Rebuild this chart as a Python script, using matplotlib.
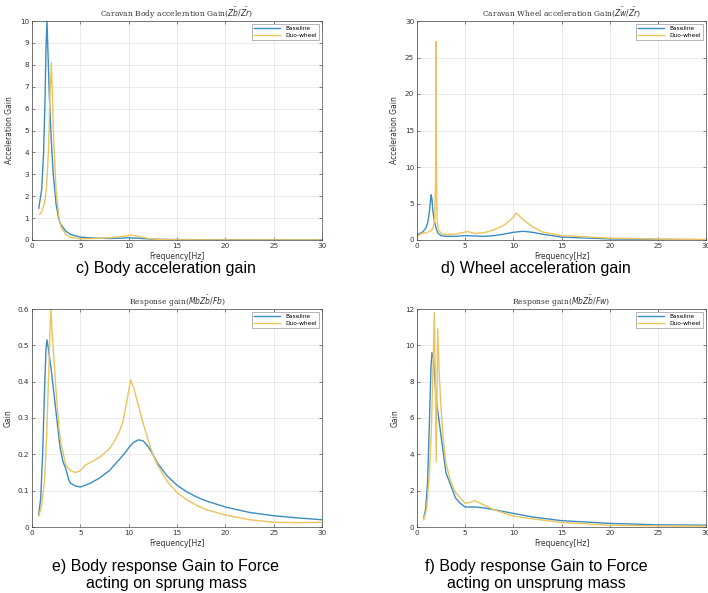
import matplotlib.pyplot as plt
from matplotlib.ticker import FormatStrFormatter

# --- data ---
# c) body acceleration gain
fc_base = [0.7, 1.0, 1.2, 1.35, 1.45, 1.55, 1.65, 1.8, 2.0, 2.2, 2.5, 2.8, 3.0, 3.5, 4.0, 5.0, 6.0, 7.0, 8.0, 9.0, 10.0, 11.0, 12.0, 13.0, 15.0, 20.0, 25.0, 30.0]
gc_base = [1.45, 2.3, 4.0, 6.5, 8.8, 10.0, 8.6, 6.5, 4.5, 3.0, 1.6, 0.9, 0.7, 0.4, 0.25, 0.13, 0.1, 0.08, 0.07, 0.08, 0.1, 0.08, 0.05, 0.03, 0.02, 0.01, 0.006, 0.005]
fc_duo = [0.8, 1.0, 1.3, 1.5, 1.7, 1.85, 2.0, 2.1, 2.25, 2.5, 2.8, 3.0, 3.5, 4.0, 5.0, 6.0, 7.0, 8.0, 9.0, 10.0, 10.3, 11.0, 12.0, 13.0, 15.0, 20.0, 30.0]
gc_duo = [1.17, 1.3, 1.7, 2.4, 4.0, 6.5, 8.1, 6.8, 4.5, 2.2, 1.0, 0.6, 0.25, 0.12, 0.06, 0.06, 0.08, 0.1, 0.14, 0.2, 0.22, 0.17, 0.07, 0.03, 0.01, 0.004, 0.002]

# d) wheel acceleration gain
fd_base = [0.0, 0.3, 0.6, 0.9, 1.1, 1.3, 1.4, 1.48, 1.55, 1.65, 1.8, 2.0, 2.2, 2.5, 3.0, 4.0, 5.0, 6.0, 7.0, 8.0, 9.0, 10.0, 11.0, 12.0, 13.0, 15.0, 20.0, 25.0, 30.0]
gd_base = [0.7, 0.9, 1.1, 1.6, 2.3, 4.0, 5.4, 6.2, 5.6, 4.0, 2.6, 1.5, 0.9, 0.6, 0.5, 0.5, 0.6, 0.55, 0.5, 0.6, 0.8, 1.05, 1.2, 1.05, 0.8, 0.4, 0.15, 0.08, 0.05]
fd_duo = [0.0, 0.3, 0.6, 1.0, 1.5, 1.7, 1.85, 1.92, 1.97, 2.02, 2.08, 2.2, 2.5, 3.0, 4.0, 5.0, 5.3, 6.0, 7.0, 8.0, 9.0, 10.0, 10.3, 11.0, 12.0, 13.0, 15.0, 20.0, 25.0, 30.0]
gd_duo = [0.3, 0.8, 0.95, 1.0, 1.3, 1.8, 3.0, 8.0, 27.2, 10.0, 3.0, 1.5, 0.9, 0.75, 0.8, 1.1, 1.15, 0.9, 1.0, 1.4, 2.0, 3.1, 3.7, 2.8, 1.8, 1.1, 0.6, 0.25, 0.12, 0.07]

# e) body response gain, force on sprung mass
fe_base = [0.7, 0.9, 1.1, 1.3, 1.45, 1.55, 1.7, 2.0, 2.3, 2.6, 2.9, 3.2, 3.5, 3.8, 4.0, 4.5, 5.0, 5.5, 6.0, 7.0, 8.0, 9.0, 9.5, 10.0, 10.5, 11.0, 11.5, 12.0, 12.5, 13.0, 14.0, 15.0, 16.0, 17.0, 18.0, 20.0, 22.5, 25.0, 27.5, 30.0]
ge_base = [0.034, 0.08, 0.2, 0.38, 0.49, 0.515, 0.49, 0.43, 0.36, 0.29, 0.22, 0.18, 0.16, 0.13, 0.12, 0.113, 0.11, 0.115, 0.12, 0.135, 0.155, 0.185, 0.2, 0.218, 0.233, 0.24, 0.237, 0.222, 0.2, 0.175, 0.14, 0.115, 0.097, 0.083, 0.072, 0.055, 0.04, 0.031, 0.025, 0.02]
fe_duo = [0.7, 1.0, 1.3, 1.5, 1.7, 1.85, 1.95, 2.1, 2.3, 2.5, 2.8, 3.0, 3.5, 4.0, 4.5, 5.0, 5.5, 6.0, 7.0, 8.0, 8.5, 9.0, 9.4, 9.7, 10.0, 10.2, 10.5, 11.0, 11.5, 12.0, 12.5, 13.0, 14.0, 15.0, 16.0, 17.0, 18.0, 20.0, 22.5, 25.0, 27.5, 30.0]
ge_duo = [0.03, 0.06, 0.13, 0.24, 0.4, 0.53, 0.6, 0.53, 0.45, 0.37, 0.27, 0.23, 0.17, 0.155, 0.15, 0.155, 0.17, 0.177, 0.192, 0.215, 0.235, 0.26, 0.29, 0.33, 0.375, 0.405, 0.385, 0.335, 0.285, 0.24, 0.2, 0.17, 0.125, 0.095, 0.075, 0.06, 0.048, 0.033, 0.02, 0.013, 0.012, 0.013]

# f) body response gain, force on unsprung mass
ff_base = [0.7, 0.9, 1.1, 1.3, 1.45, 1.55, 1.7, 1.85, 2.0, 2.5, 3.0, 3.5, 4.0, 4.5, 5.0, 6.0, 7.0, 8.0, 10.0, 12.0, 15.0, 20.0, 25.0, 30.0]
gf_base = [0.5, 1.0, 2.5, 6.0, 8.8, 9.6, 9.3, 8.2, 7.0, 5.0, 3.0, 2.3, 1.6, 1.3, 1.1, 1.1, 1.05, 0.95, 0.75, 0.55, 0.35, 0.2, 0.12, 0.1]
ff_duo = [0.7, 1.0, 1.3, 1.5, 1.65, 1.8, 1.9, 2.0, 2.08, 2.15, 2.3, 2.5, 2.7, 3.0, 3.5, 4.0, 5.0, 5.5, 6.0, 7.0, 8.0, 10.0, 12.0, 15.0, 20.0, 25.0, 30.0]
gf_duo = [0.4, 1.0, 3.0, 5.5, 8.5, 11.8, 8.0, 3.6, 7.5, 10.9, 8.5, 6.5, 5.0, 3.5, 2.5, 1.9, 1.3, 1.35, 1.45, 1.2, 0.95, 0.6, 0.45, 0.25, 0.1, 0.06, 0.05]

titles = [r'Caravan Body acceleration Gain($\ddot{Zb}/\ddot{Zr}$)',
          r'Caravan Wheel acceleration Gain($\ddot{Zw}/\ddot{Zr}$)',
          r'Response gain($Mb\ddot{Zb}/Fb$)',
          r'Response gain($Mb\ddot{Zb}/Fw$)']
ylabels = ['Acceleration Gain', 'Acceleration Gain', 'Gain', 'Gain']
ylims = [10, 30, 0.6, 12]
yticks = [range(0, 11), range(0, 31, 5), [0, 0.1, 0.2, 0.3, 0.4, 0.5, 0.6], range(0, 13, 2)]
captions = ['c) Body acceleration gain', 'd) Wheel acceleration gain',
            'e) Body response Gain to Force\nacting on sprung mass',
            'f) Body response Gain to Force\nacting on unsprung mass']

series = [(fc_base, gc_base, fc_duo, gc_duo),
          (fd_base, gd_base, fd_duo, gd_duo),
          (fe_base, ge_base, fe_duo, ge_duo),
          (ff_base, gf_base, ff_duo, gf_duo)]

W, H = 708, 593
fig = plt.figure(figsize=(W / 100, H / 100), dpi=100)

# axes boxes in pixels: left, top, right, bottom
boxes = [(32, 21, 322, 240), (417, 21, 706, 240),
         (32, 309, 322, 527), (417, 309, 706, 527)]
cap_y = [268, 268, 575, 575]
cap_x = [166, 536, 166, 536]

blue = '#3a8cc2'
yellow = '#ecc35c'

for i in range(4):
    l, t, r, b = boxes[i]
    ax = fig.add_axes([l / W, 1 - b / H, (r - l) / W, (b - t) / H])
    fb, gb, fdw, gdw = series[i]
    ax.plot(fb, gb, color=blue, lw=1.0, label='Baseline')
    ax.plot(fdw, gdw, color=yellow, lw=1.0, label='Duo-wheel')
    ax.set_xlim(0, 30)
    ax.set_ylim(0, ylims[i])
    ax.set_xticks(range(0, 31, 5))
    ax.set_yticks(list(yticks[i]))
    ax.yaxis.set_major_formatter(FormatStrFormatter('%g'))
    ax.grid(True, color='#e3e3e3', lw=0.5)
    ax.tick_params(direction='in', top=True, right=True, labelsize=5.2,
                   length=2, width=0.4, pad=2, colors='#333333')
    for s in ax.spines.values():
        s.set_linewidth(0.5)
        s.set_color('#444444')
    ax.set_title(titles[i], family='serif', fontsize=5.5, pad=3, color='#333333')
    ax.set_ylabel(ylabels[i], fontsize=5.5, labelpad=4, color='#333333')
    ax.set_xlabel('Frequency[Hz]', fontsize=5.5, labelpad=2, color='#333333')
    leg = ax.legend(loc='upper right', fontsize=4.2, handlelength=4.5,
                    fancybox=False, framealpha=1, borderpad=0.4,
                    labelspacing=0.2, edgecolor='#999999')
    leg.get_frame().set_linewidth(0.5)
    fig.text(cap_x[i] / W, 1 - cap_y[i] / H, captions[i], ha='center', va='center',
             fontsize=11.5, family='Liberation Sans', linespacing=1.2)

fig.savefig('out.png', dpi=100)
